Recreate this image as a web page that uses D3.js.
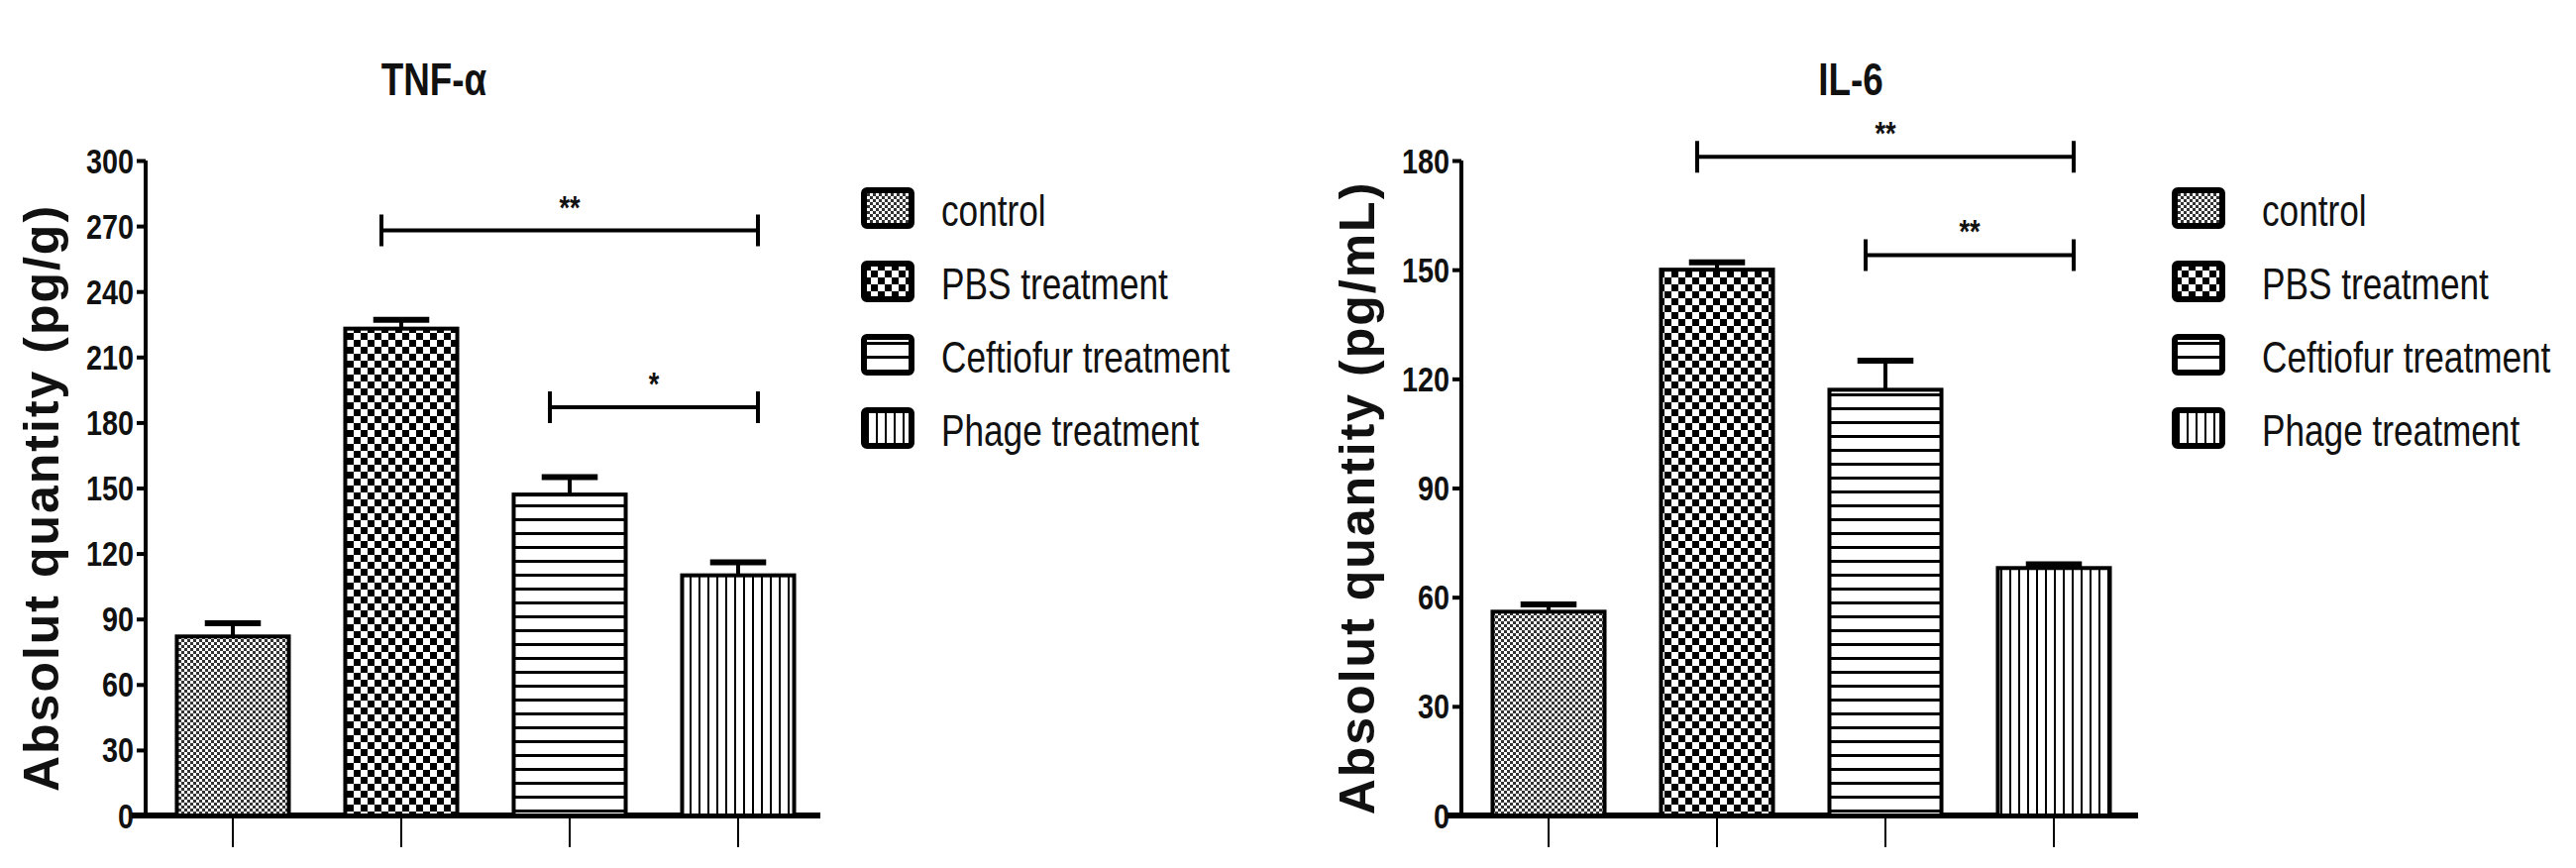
<!DOCTYPE html>
<html>
<head>
<meta charset="utf-8">
<script src="https://cdn.jsdelivr.net/npm/d3@7"></script>
<style>
  body { margin: 0; background: #fff; }
  svg text { fill: #111; }
  .tick text { font-family: "Liberation Sans", sans-serif; font-weight: bold; font-size: 36px; }
</style>
</head>
<body>
<svg id="chart" width="2600" height="876"></svg>
<script>
const groups = ['control', 'PBS treatment', 'Ceftiofur treatment', 'Phage treatment']
const tnfMeans = [82, 223, 147, 110]
const tnfErrors = [6, 4, 8, 6]
const il6Means = [56, 150, 117, 68]
const il6Errors = [2, 2, 8, 1]
const tnfTicks = [0, 30, 60, 90, 120, 150, 180, 210, 240, 270, 300]
const il6Ticks = [0, 30, 60, 90, 120, 150, 180]
const tnfBrackets = [{ from: 1, to: 3, y: 268, label: '**' }, { from: 2, to: 3, y: 187, label: '*' }]
const il6Brackets = [{ from: 1, to: 3, y: 181, label: '**' }, { from: 2, to: 3, y: 154, label: '**' }]

const svg = d3.select('#chart')
const defs = svg.append('defs')
const narrow = 0.8

// fill patterns, one per group
const pat = (id, size, draw) => {
  const p = defs.append('pattern').attr('id', id).attr('patternUnits', 'userSpaceOnUse')
    .attr('width', size).attr('height', size)
  p.append('rect').attr('width', size).attr('height', size).attr('fill', '#fff')
  draw(p)
}
pat('p0', 6, p => {
  p.append('rect').attr('width', 3).attr('height', 3).attr('fill', '#333')
  p.append('rect').attr('x', 3).attr('y', 3).attr('width', 3).attr('height', 3).attr('fill', '#333')
})
pat('p1', 14, p => {
  p.append('rect').attr('width', 7).attr('height', 7).attr('fill', '#000')
  p.append('rect').attr('x', 7).attr('y', 7).attr('width', 7).attr('height', 7).attr('fill', '#000')
})
pat('p2', 14, p => {
  p.append('rect').attr('y', 5).attr('width', 14).attr('height', 3).attr('fill', '#000')
})
pat('p3', 9, p => {
  p.append('rect').attr('x', 3).attr('width', 2).attr('height', 9).attr('fill', '#000')
})
const fills = groups.map((g, i) => `url(#p${i})`)

// condensed text: squeeze horizontally around its anchor x
const squeeze = (sel, x, y) => sel.attr('x', 0).attr('y', 0)
  .attr('transform', `translate(${x},${y}) scale(${narrow},1)`)

function panel (opts) {
  const { x0, x1, y0, y1, max, ticks, means, errors, brackets, title, titleX, ylabel, legendX, legendPad } = opts
  const g = svg.append('g')

  const x = d3.scaleBand().domain(groups).range([x0 + 3, x0 + 683]).paddingInner(0.335).paddingOuter(0.1675)
  const y = d3.scaleLinear().domain([0, max]).range([y0, y1])

  g.append('g').attr('transform', `translate(${x0},0)`)
    .call(d3.axisLeft(y).tickValues(ticks).tickSize(9).tickPadding(3))
    .call(a => a.selectAll('path, line').attr('stroke', '#000').attr('stroke-width', 4))
    .call(a => a.select('.domain').attr('d', `M0,${y0}V${y1}`))
    .call(a => a.selectAll('.tick text').each(function () {
      const t = d3.select(this)
      t.attr('dy', null).attr('transform', `translate(-12,12) scale(${narrow},1)`).attr('x', 0)
    }))

  g.append('g').attr('transform', `translate(0,${y0})`)
    .call(d3.axisBottom(x).tickSize(32).tickFormat(''))
    .call(a => a.selectAll('line').attr('stroke', '#000').attr('stroke-width', 2))
    .call(a => a.select('.domain').attr('stroke', '#000').attr('stroke-width', 6).attr('d', `M${x0 - 14},0H${x1}`))

  const bars = g.selectAll('.bar').data(groups).join('g')
  bars.append('line')
    .attr('x1', d => x(d) + x.bandwidth() / 2).attr('x2', d => x(d) + x.bandwidth() / 2)
    .attr('y1', (d, i) => y(means[i])).attr('y2', (d, i) => y(means[i] + errors[i]))
    .attr('stroke', '#000').attr('stroke-width', 4)
  bars.append('line')
    .attr('x1', d => x(d) + x.bandwidth() * 0.25).attr('x2', d => x(d) + x.bandwidth() * 0.75)
    .attr('y1', (d, i) => y(means[i] + errors[i])).attr('y2', (d, i) => y(means[i] + errors[i]))
    .attr('stroke', '#000').attr('stroke-width', 6)
  bars.append('rect')
    .attr('x', d => x(d)).attr('width', x.bandwidth())
    .attr('y', (d, i) => y(means[i])).attr('height', (d, i) => y0 - y(means[i]))
    .attr('fill', (d, i) => fills[i]).attr('stroke', '#000').attr('stroke-width', 4)

  brackets.forEach(b => {
    const xa = x(groups[b.from]) + x.bandwidth() / 2 - 20
    const xb = x(groups[b.to]) + x.bandwidth() / 2 + 20
    const yy = y(b.y)
    g.append('path').attr('d', `M${xa},${yy - 16}V${yy + 16}M${xa},${yy}H${xb}M${xb},${yy - 16}V${yy + 16}`)
      .attr('stroke', '#000').attr('stroke-width', 4).attr('fill', 'none')
    g.append('text').attr('text-anchor', 'middle')
      .style('font', 'bold 34px "Liberation Sans", sans-serif').text(b.label)
      .call(squeeze, (xa + xb) / 2, yy - 12)
  })

  g.append('text').attr('text-anchor', 'middle')
    .style('font', 'bold 46px "Liberation Sans", sans-serif').text(title)
    .call(squeeze, titleX, 96)

  g.append('text').attr('transform', `translate(${x0 - 88},${(y0 + y1) / 2 + 10}) rotate(-90)`)
    .attr('text-anchor', 'middle')
    .style('font', 'bold 50px "Liberation Sans", sans-serif').style('letter-spacing', '2px').text(ylabel)

  const leg = g.selectAll('.leg').data(groups).join('g')
    .attr('transform', (d, i) => `translate(${legendX},${192 + i * 74})`)
  leg.append('rect').attr('width', 48).attr('height', 36).attr('rx', 3)
    .attr('fill', (d, i) => fills[i]).attr('stroke', '#000').attr('stroke-width', 6)
  leg.append('text')
    .style('font', '44px "Liberation Sans", sans-serif').text(d => d)
    .call(squeeze, 78 + legendPad, 36)
}

panel({ x0: 147, x1: 828, y0: 823, y1: 162, max: 300, ticks: tnfTicks, means: tnfMeans, errors: tnfErrors,
  brackets: tnfBrackets, title: 'TNF-α', titleX: 438, ylabel: 'Absolut quantity (pg/g)', legendX: 872, legendPad: 0 })
panel({ x0: 1475, x1: 2158, y0: 823, y1: 162, max: 180, ticks: il6Ticks, means: il6Means, errors: il6Errors,
  brackets: il6Brackets, title: 'IL-6', titleX: 1868, ylabel: 'Absolut quantity (pg/mL)', legendX: 2195, legendPad: 10 })
</script>
</body>
</html>
